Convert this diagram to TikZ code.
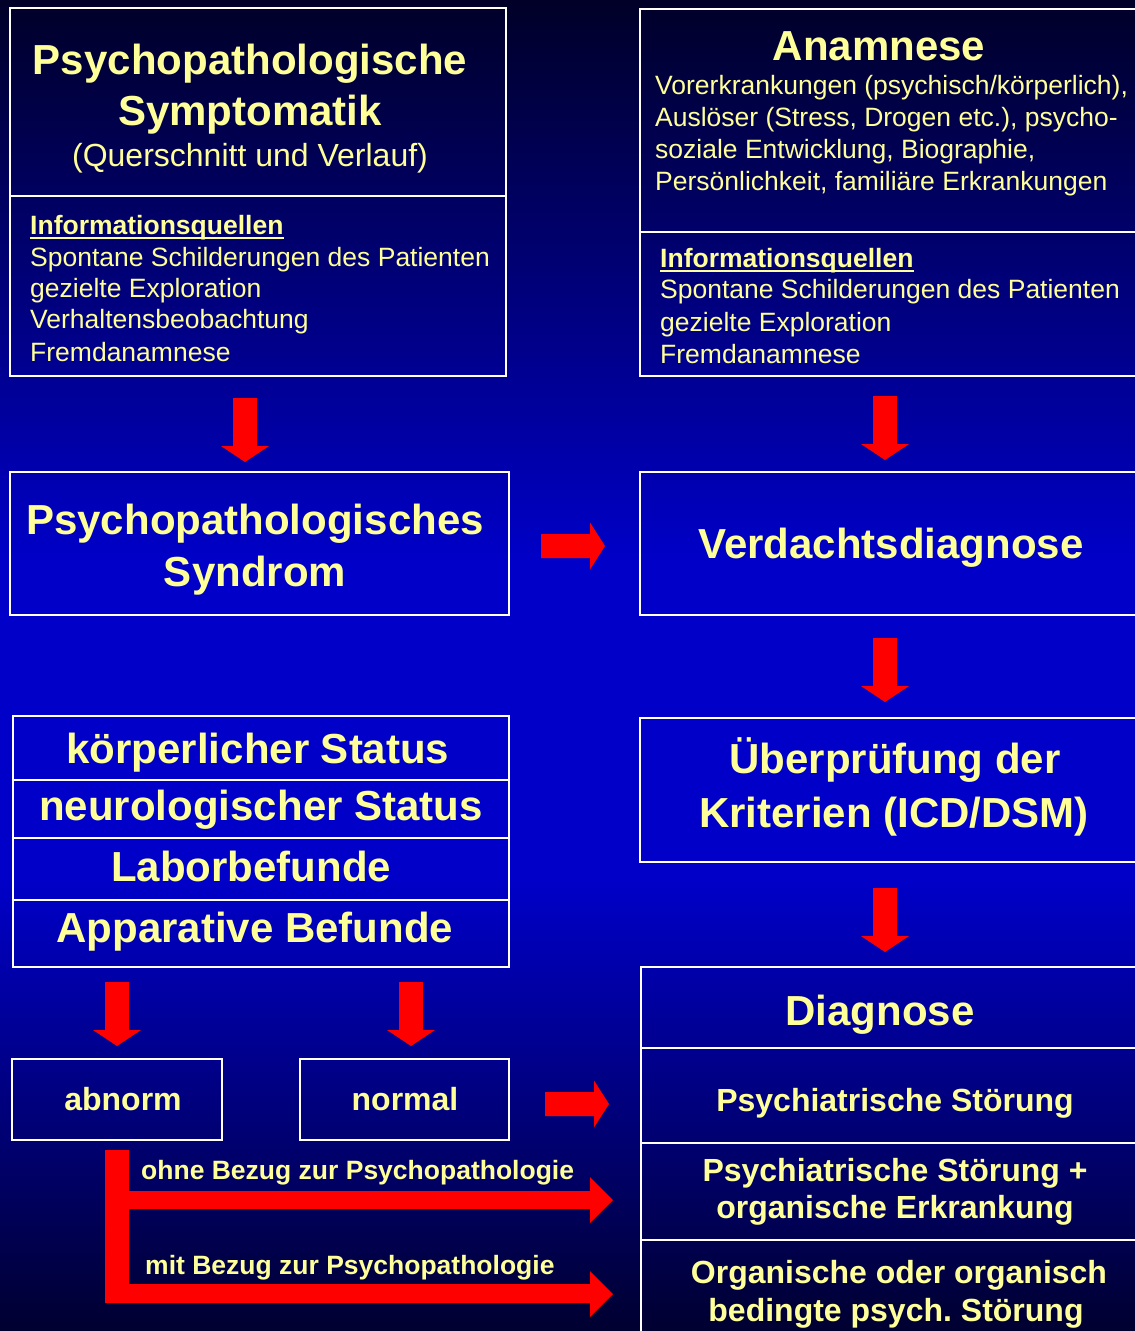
\documentclass[tikz,border=0pt]{standalone}
\usepackage{fontspec}
\setmainfont{Liberation Sans}
\frenchspacing
\definecolor{txtyel}{HTML}{FFFF99}
\definecolor{bgtop}{HTML}{000028}
\definecolor{bgmid}{HTML}{0000C8}
\definecolor{bgbot}{HTML}{000030}
\definecolor{arrred}{HTML}{FF0000}
\tikzset{
  pics/downblk/.style={code={\fill[arrred] (-12,0) -- (12,0) -- (12,48) -- (24,48) -- (0,64) -- (-24,48) -- (-12,48) -- cycle;}},
  pics/rightblk/.style={code={\fill[arrred] (0,-12) -- (49,-12) -- (49,-23.5) -- (64,0) -- (49,23.5) -- (49,12) -- (0,12) -- cycle;}}
}
\begin{document}
\begin{tikzpicture}[x=1pt,y=-1pt,
  box/.style={draw=white, line width=2pt, inner sep=0pt, rectangle},
  divider/.style={draw=white, line width=2pt},
  big/.style={font=\fontsize{42}{50}\selectfont\bfseries, text=txtyel, inner sep=0pt, anchor=base},
  mid/.style={font=\fontsize{32}{38}\selectfont\bfseries, text=txtyel, inner sep=0pt, anchor=base},
  midreg/.style={font=\fontsize{32}{38}\selectfont, text=txtyel, inner sep=0pt, anchor=base},
  body/.style={font=\fontsize{26.5}{32}\selectfont, text=txtyel, inner sep=0pt, anchor=base west},
  bodyb/.style={font=\fontsize{26.5}{32}\selectfont\bfseries, text=txtyel, inner sep=0pt, anchor=base west},
  uline/.style={draw=txtyel, line width=2pt}
]
\useasboundingbox (0,0) rectangle (1135,1331);
\clip (0,0) rectangle (1135,1331);
% background
\shade[top color=bgtop, bottom color=bgmid] (0,0) rectangle (1135,561);
\fill[bgmid] (0,560) rectangle (1135,881);
\shade[top color=bgmid, bottom color=bgbot] (0,880) rectangle (1135,1331);

% boxes
\node[box, minimum width=496pt, minimum height=368pt] (symp) at (258,192) {};
\node[box, minimum width=500pt, minimum height=367pt] (anam) at (890,192.5) {};
\node[box, minimum width=499pt, minimum height=143pt] (synd) at (259.5,543.5) {};
\node[box, minimum width=500pt, minimum height=143pt] (verd) at (890,543.5) {};
\node[box, minimum width=500pt, minimum height=144pt] (krit) at (890,790) {};
\node[box, minimum width=496pt, minimum height=251pt] (stat) at (261,841.5) {};
\node[box, minimum width=499pt, minimum height=373pt] (diag) at (890.5,1153.5) {};
\node[box, minimum width=210pt, minimum height=81pt] (abn) at (117,1099.5) {};
\node[box, minimum width=209pt, minimum height=81pt] (nor) at (404.5,1099.5) {};

% dividers
\coordinate (d1) at (0,196);
\coordinate (d2) at (0,232);
\coordinate (d3) at (0,780);
\coordinate (d4) at (0,838);
\coordinate (d5) at (0,900);
\coordinate (d6) at (0,1048);
\coordinate (d7) at (0,1143);
\coordinate (d8) at (0,1240);
\draw[divider] (symp.west |- d1) -- (symp.east |- d1);
\draw[divider] (anam.west |- d2) -- (anam.east |- d2);
\draw[divider] (stat.west |- d3) -- (stat.east |- d3);
\draw[divider] (stat.west |- d4) -- (stat.east |- d4);
\draw[divider] (stat.west |- d5) -- (stat.east |- d5);
\draw[divider] (diag.west |- d6) -- (diag.east |- d6);
\draw[divider] (diag.west |- d7) -- (diag.east |- d7);
\draw[divider] (diag.west |- d8) -- (diag.east |- d8);

% arrows
\pic (a1) at (245,398) {downblk};
\pic (a2) at (885,396) {downblk};
\pic (a3) at (885,638) {downblk};
\pic (a4) at (885,888) {downblk};
\pic (a5) at (117,982) {downblk};
\pic (a6) at (411,982) {downblk};
\pic (a7) at (541,546) {rightblk};
\pic (a8) at (545,1104) {rightblk};
\fill[arrred] (105,1150) -- (129,1150) -- (129,1191) -- (590,1191) -- (590,1177) -- (613,1200)
  -- (590,1223) -- (590,1209) -- (129,1209) -- (129,1284) -- (590,1284) -- (590,1271)
  -- (613,1294) -- (590,1317) -- (590,1303) -- (105,1303) -- cycle;

% texts box 1
\node[big] (t1a) at (250,74) {Psychopathologische};
\node[big] (t1b) at (250,125) {Symptomatik};
\node[midreg] (t1c) at (250,166) {(Querschnitt und Verlauf)};
\node[bodyb] (iq1) at (30,234) {Informationsquellen};
\draw[uline] ([yshift=-3.5pt]iq1.base west) -- ([yshift=-3.5pt]iq1.base east);
\node[body] (s1a) at (30,266) {Spontane Schilderungen des Patienten};
\node[body] (s1b) at (30,297) {gezielte Exploration};
\node[body] (s1c) at (30,328.5) {Verhaltensbeobachtung};
\node[body] (s1d) at (30,361) {Fremdanamnese};

% texts box 2
\node[big] (t2a) at (879,60) {Anamnese};
\node[body] (t2b) at (655,94) {Vorerkrankungen (psychisch/körperlich),};
\node[body] (t2c) at (655,126.5) {Auslöser (Stress, Drogen etc.), psycho-};
\node[body] (t2d) at (655,158.5) {soziale Entwicklung, Biographie,};
\node[body] (t2e) at (655,190) {Persönlichkeit, familiäre Erkrankungen};
\node[bodyb] (iq2) at (660,267) {Informationsquellen};
\draw[uline] ([yshift=-3.5pt]iq2.base west) -- ([yshift=-3.5pt]iq2.base east);
\node[body] (s2a) at (660,298) {Spontane Schilderungen des Patienten};
\node[body] (s2b) at (660,331) {gezielte Exploration};
\node[body] (s2c) at (660,363) {Fremdanamnese};

% syndrome / suspected diagnosis
\node[big] (t3a) at (255,534) {Psychopathologisches};
\node[big] (t3b) at (255,586) {Syndrom};
\node[big] (t4) at (891,558) {Verdachtsdiagnose};
\node[big] (t5a) at (895,773) {Überprüfung der};
\node[big] (t5b) at (894,827) {Kriterien (ICD/DSM)};

% status stack
\node[big] (t6a) at (258,763) {körperlicher Status};
\node[big] (t6b) at (261,820) {neurologischer Status};
\node[big] (t6c) at (251,881) {Laborbefunde};
\node[big] (t6d) at (255,942) {Apparative Befunde};

\node[mid] (t7) at (123,1110) {abnorm};
\node[mid] (t8) at (405,1110) {normal};

% diagnosis
\node[big] (t9) at (880,1025) {Diagnose};
\node[mid] (t10) at (895,1111) {Psychiatrische Störung};
\node[mid] (t11a) at (895,1181) {Psychiatrische Störung +};
\node[mid] (t11b) at (895,1218) {organische Erkrankung};
\node[mid] (t12a) at (899,1283) {Organische oder organisch};
\node[mid] (t12b) at (896,1321) {bedingte psych.\ Störung};

% branch labels
\node[bodyb] (l1) at (141,1179) {ohne Bezug zur Psychopathologie};
\node[bodyb] (l2) at (145,1274) {mit Bezug zur Psychopathologie};
\end{tikzpicture}
\end{document}
